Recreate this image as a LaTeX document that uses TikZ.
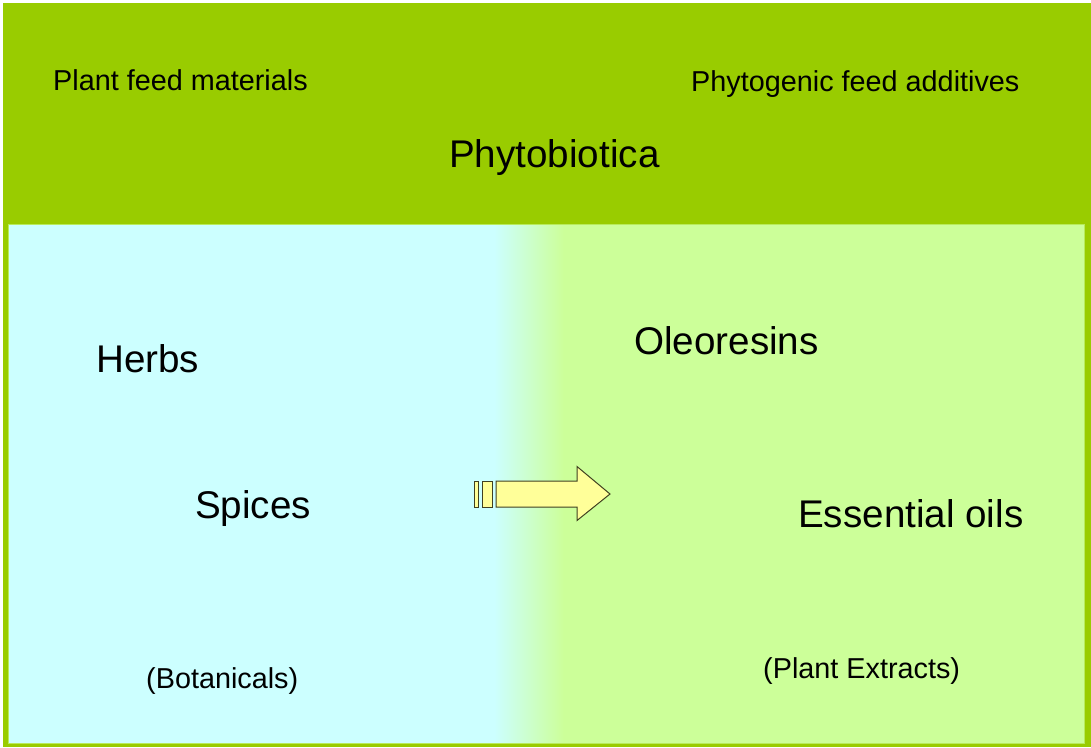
\documentclass[tikz,border=0pt]{standalone}
\usepackage{fontspec}
\setmainfont{Liberation Sans}
\definecolor{topgreen}{HTML}{99CC00}
\definecolor{lcyan}{HTML}{CCFFFF}
\definecolor{lgreen}{HTML}{CCFF99}
\definecolor{arrowfill}{HTML}{FFFF99}
\definecolor{arrowline}{HTML}{404020}
\begin{document}
\begin{tikzpicture}[x=1pt,y=-1pt,
  small/.style={font=\fontsize{28.8}{30}\selectfont, anchor=base west, inner sep=0pt},
  big/.style={font=\fontsize{38.6}{40}\selectfont, anchor=base west, inner sep=0pt},
  arr/.style={fill=arrowfill, draw=arrowline, line width=1pt, line join=miter}]
\useasboundingbox (0,0) rectangle (1091,747);
\fill[white] (0,0) rectangle (1091,747);
\fill[topgreen] (3,3) rectangle (1091,747);
% inner panel
\fill[lcyan] (8,224) rectangle (1084,744);
\fill[lgreen] (562,224) rectangle (1084,744);
\begin{scope}
\clip (494,225) rectangle (564,743);
\shade[left color=lcyan, right color=lgreen] (494,200) rectangle (564,760);
\end{scope}
\draw[color=lgreen!60!topgreen, line width=1pt] (8.5,224.5) rectangle (1084.5,743.5);
% texts
\node[small] (pfm) at (53,90) {Plant feed materials};
\node[small] (pfa) at (691,91) {Phytogenic feed additives};
\node[big] (phy) at (449,167) {Phytobiotica};
\node[big] (herbs) at (96,372) {Herbs};
\node[big] (spices) at (195,518) {Spices};
\node[big] (oleo) at (634,354) {Oleoresins};
\node[big] (eoil) at (798,527) {Essential oils};
\node[small] (bot) at (146,688) {(Botanicals)};
\node[small] (pext) at (763,678) {(Plant Extracts)};
% arrow
\coordinate (arrowstart) at (474,494);
\draw[arr] (474.5,481) rectangle (478.5,507);
\draw[arr] (482.5,481) rectangle (492.5,507);
\draw[arr] (496,481) -- (577,481) -- (577,466.5) -- (610,494) -- (577,520.5) -- (577,507) -- (496,507) -- cycle;
\end{tikzpicture}
\end{document}
